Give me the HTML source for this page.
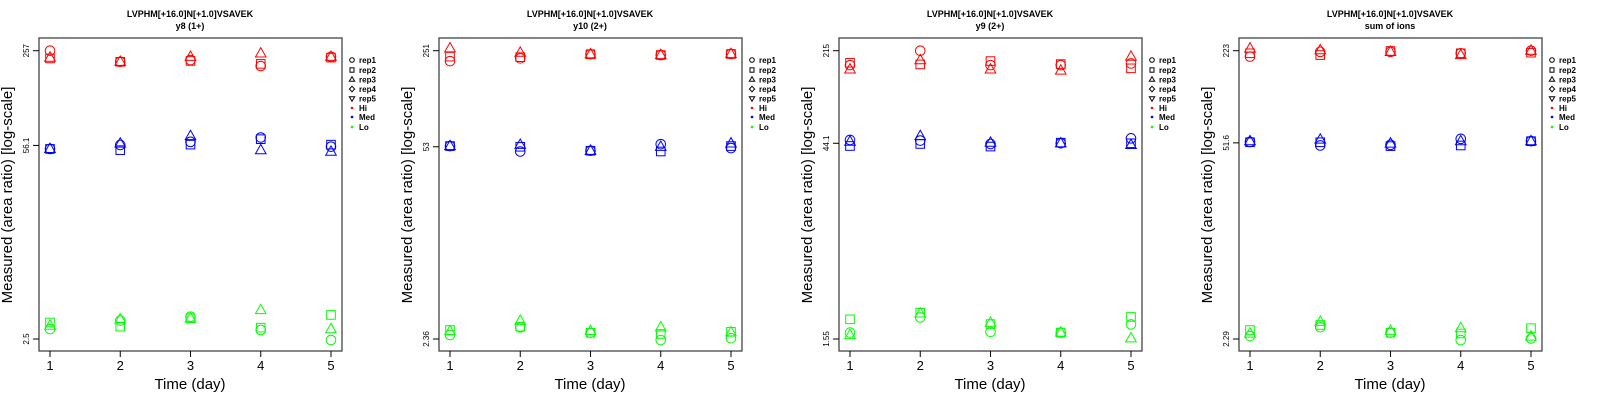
<!DOCTYPE html>
<html><head><meta charset="utf-8"><style>
html,body{margin:0;padding:0;background:#fff;}
svg{display:block;font-family:"Liberation Sans",sans-serif;}
</style></head><body>
<svg id="chart" width="1600" height="400"></svg>
<script>
// Data: each day -> [rep1 (circle), rep2 (square), rep3 (triangle)]
const days = [1,2,3,4,5];
const subtitles = ["y8 (1+)","y10 (2+)","y9 (2+)","sum of ions"];
const yTickLabels = [["257","56.1","2.5"],["251","53","2.36"],["215","44.1","1.55"],["223","51.6","2.29"]];
const yTicks = [[257,56.1,2.5],[251,53,2.36],[215,44.1,1.55],[223,51.6,2.29]];
const p1Hi  = [[257,227,230],[215,215,215],[221,218,233],[201,208,246],[233,230,233]];
const p1Med = [[53,53,53],[56.5,52,57.8],[59.4,56.8,65.2],[63.7,62,52],[55,56.8,50.7]];
const p1Lo  = [[2.93,3.26,3.1],[3.36,3.05,3.43],[3.58,3.49,3.49],[2.89,3.0,3.98],[2.46,3.68,2.93]];
const p2Hi  = [[212,228,261],[222,226,243],[237,237,237],[234,234,234],[238,238,238]];
const p2Med = [[53.6,53.6,53.6],[49.1,53,54.7],[49.7,49.7,49.7],[55.3,49.1,53],[51.9,53.6,56]];
const p2Lo  = [[2.52,2.73,2.68],[2.85,2.88,3.17],[2.61,2.61,2.69],[2.32,2.56,2.85],[2.39,2.65,2.63]];
const p3Hi  = [[168,175,156],[215,170,183],[168,180,156],[168,171,153],[173,159,194]];
const p3Med = [[46.7,42.1,45.4],[46.2,43.6,49.9],[43.6,41.7,44.6],[44.1,44.6,44.1],[48,44.1,42.9]];
const p3Lo  = [[1.73,2.17,1.66],[2.24,2.43,2.40],[1.75,2.0,2.05],[1.73,1.73,1.73],[1.99,2.26,1.57]];
const p4Hi  = [[203,214,231],[219,208,225],[219,222,219],[214,214,208],[223,216,223]];
const p4Med = [[52.4,52.1,53],[49.5,52.1,54.4],[50,49,51.1],[55,49.5,53],[53,53,53]];
const p4Lo  = [[2.4,2.64,2.5],[2.76,2.86,3.01],[2.53,2.53,2.61],[2.25,2.5,2.72],[2.31,2.72,2.38]];
const panels = [[p1Hi,p1Med,p1Lo],[p2Hi,p2Med,p2Lo],[p3Hi,p3Med,p3Lo],[p4Hi,p4Med,p4Lo]];
const groupColors = ["#ff0000","#0000ff","#00ff00"];
const legendLabels = ["rep1","rep2","rep3","rep4","rep5","Hi","Med","Lo"];

const NS="http://www.w3.org/2000/svg";
const svg=document.getElementById('chart');
function mk(tag,attrs,parent){const e=document.createElementNS(NS,tag);for(const k in attrs)e.setAttribute(k,attrs[k]);parent.appendChild(e);return e;}
const L=39,R=342,T=38,B=351;
const yTop=50.7,yBot=339;
function xScale(d){return 50+(d-1)*(331-50)/4;}
function marker(shape,x,y,color,g,name){
  let e;
  if(shape===0){e=mk('circle',{cx:x,cy:y,r:4.8,fill:'none',stroke:color,'stroke-width':1},g);}
  else if(shape===1){e=mk('rect',{x:x-4.3,y:y-4.3,width:8.6,height:8.6,fill:'none',stroke:color,'stroke-width':1},g);}
  else {e=mk('polygon',{points:`${x},${y-5.8} ${x-5.3},${y+3.6} ${x+5.3},${y+3.6}`,fill:'none',stroke:color,'stroke-width':1},g);}
  
  
  return e;
}
panels.forEach((pd,p)=>{
  const g=mk('g',{transform:`translate(${p*400},0)`},svg);
  
  
  const ymax=yTicks[p][0],ymin=yTicks[p][2];
  const ly=v=>yTop+(Math.log(ymax)-Math.log(v))/(Math.log(ymax)-Math.log(ymin))*(yBot-yTop);
  let t=mk('text',{x:190,y:17,'text-anchor':'middle','font-size':9,'font-weight':'bold'},g);t.textContent="LVPHM[+16.0]N[+1.0]VSAVEK";
  
  t=mk('text',{x:190,y:29,'text-anchor':'middle','font-size':9,'font-weight':'bold'},g);t.textContent=subtitles[p];
  
  const fr=mk('rect',{x:L,y:T,width:R-L,height:B-T,fill:'none',stroke:'#444','stroke-width':1.3},g);
  
  days.forEach(d=>{
    const x=xScale(d);
    mk('line',{x1:x,x2:x,y1:B,y2:B+6,stroke:'#000','stroke-width':1},g);
    const tl=mk('text',{x:x,y:370,'text-anchor':'middle','font-size':13},g);tl.textContent=d;
    
  });
  yTicks[p].forEach((v,i)=>{
    const y=ly(v);
    mk('line',{x1:L-6,x2:L,y1:y,y2:y,stroke:'#000','stroke-width':1},g);
    const tl=mk('text',{x:0,y:0,'text-anchor':'middle','font-size':8,transform:`translate(29,${y}) rotate(-90)`},g);
    tl.textContent=yTickLabels[p][i];
    
  });
  t=mk('text',{x:190,y:389,'text-anchor':'middle','font-size':15},g);t.textContent="Time (day)";
  
  t=mk('text',{x:0,y:0,'text-anchor':'middle','font-size':15,transform:'translate(12,195) rotate(-90)'},g);t.textContent="Measured (area ratio) [log-scale]";
  
  pd.forEach((series,gi)=>{
    series.forEach((reps,di)=>{
      reps.forEach((v,ri)=>{
        marker(ri,xScale(days[di]),ly(v),groupColors[gi],g,'point-'+['hi','med','lo'][gi]);
      });
    });
  });
  // legend
  const lys=[60,70,79.5,89,98.5,108,117,127];
  legendLabels.forEach((lab,i)=>{
    const y=lys[i];const x=352;
    if(i===0)mk('circle',{cx:x,cy:y,r:2.3,fill:'none',stroke:'#000','stroke-width':1},g);
    else if(i===1)mk('rect',{x:x-2,y:y-2.2,width:4,height:4.4,fill:'none',stroke:'#000','stroke-width':1},g);
    else if(i===2)mk('polygon',{points:`${x},${y-2.8} ${x-2.7},${y+1.8} ${x+2.7},${y+1.8}`,fill:'none',stroke:'#000','stroke-width':1},g);
    else if(i===3)mk('polygon',{points:`${x},${y-2.8} ${x-2.6},${y} ${x},${y+2.8} ${x+2.6},${y}`,fill:'none',stroke:'#000','stroke-width':1},g);
    else if(i===4)mk('polygon',{points:`${x},${y+2.8} ${x-2.7},${y-1.8} ${x+2.7},${y-1.8}`,fill:'none',stroke:'#000','stroke-width':1},g);
    else mk('circle',{cx:x,cy:y,r:1.3,fill:groupColors[i-5]},g);
    const lt=mk('text',{x:359,y:y+3,'font-size':8,'font-weight':'bold'},g);lt.textContent=lab;
    
  });
});
</script>
</body></html>
